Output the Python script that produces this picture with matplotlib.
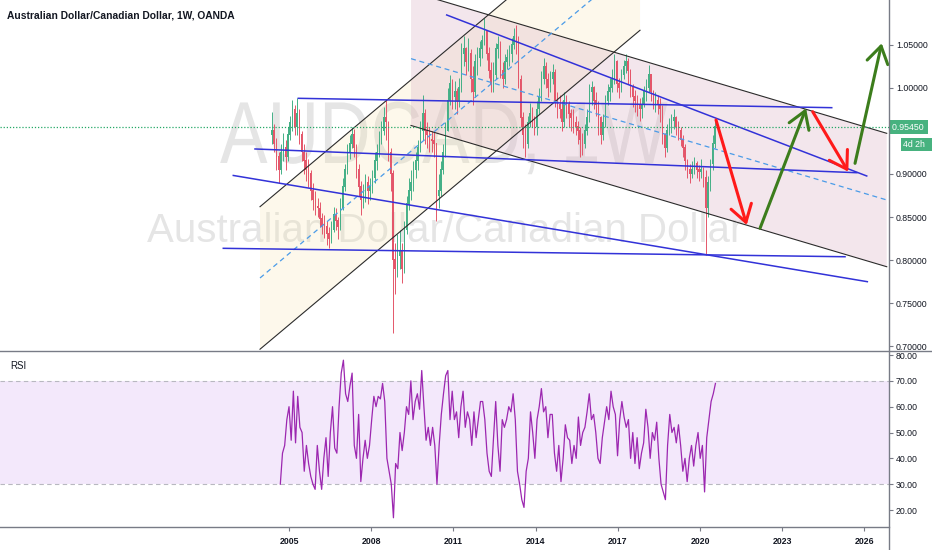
import numpy as np
import matplotlib
matplotlib.use('Agg')
import matplotlib.pyplot as plt
from matplotlib.lines import Line2D
from matplotlib import transforms
from matplotlib.textpath import TextPath
from matplotlib.patches import PathPatch
from matplotlib.font_manager import FontProperties

plt.rcParams['font.family'] = ['Liberation Sans', 'DejaVu Sans']

# monthly candles, May 2004 .. Jul 2020
first_open = 0.945
closes = [
    0.950, 0.935, 0.920, 0.905, 0.925, 0.930, 0.920, 0.945,                      # 2004
    0.960, 0.975, 0.955, 0.970, 0.945, 0.925, 0.915, 0.905, 0.900, 0.880, 0.870, 0.862,  # 2005
    0.860, 0.848, 0.840, 0.838, 0.830, 0.825, 0.835, 0.852, 0.845, 0.838, 0.860, 0.885,  # 2006
    0.905, 0.925, 0.935, 0.945, 0.930, 0.905, 0.885, 0.870, 0.875, 0.890, 0.880, 0.885,  # 2007
    0.895, 0.915, 0.925, 0.940, 0.950, 0.965, 0.960, 0.925, 0.900, 0.800, 0.790, 0.805,  # 2008
    0.810, 0.790, 0.835, 0.865, 0.880, 0.890, 0.905, 0.915, 0.930, 0.950, 0.970, 0.950,  # 2009
    0.945, 0.940, 0.938, 0.935, 0.875, 0.880, 0.905, 0.925, 0.950, 0.985, 1.005, 0.990,  # 2010
    0.995, 0.985, 1.000, 1.040, 1.045, 1.030, 1.040, 1.010, 0.995, 1.030, 1.035, 1.045,  # 2011
    1.055, 1.065, 1.040, 1.020, 1.005, 1.015, 1.045, 1.050, 1.020, 1.010, 1.030, 1.035,  # 2012
    1.040, 1.050, 1.060, 1.055, 1.010, 0.965, 0.945, 0.935, 0.960, 0.970, 0.965, 0.955,  # 2013
    0.975, 0.990, 1.010, 1.025, 1.010, 1.000, 1.010, 1.018, 0.985, 0.980, 0.975, 0.960,  # 2014
    0.985, 0.980, 0.970, 0.965, 0.960, 0.955, 0.950, 0.940, 0.935, 0.950, 0.965, 0.995,  # 2015
    1.000, 0.985, 0.980, 0.965, 0.945, 0.960, 0.985, 0.995, 1.000, 1.010, 1.030, 1.005,  # 2016
    1.000, 1.015, 1.025, 1.030, 1.020, 1.000, 0.990, 0.985, 0.980, 0.975, 0.980, 0.995,  # 2017
    1.000, 1.015, 0.995, 0.985, 0.985, 0.980, 0.975, 0.945, 0.930, 0.950, 0.958, 0.962,  # 2018
    0.965, 0.955, 0.950, 0.940, 0.930, 0.915, 0.905, 0.900, 0.905, 0.912, 0.905, 0.902,  # 2019
    0.905, 0.895, 0.860, 0.890, 0.912, 0.935, 0.9545,                                  # 2020
]
highs = [
    0.972, 0.958, 0.942, 0.925, 0.935, 0.948, 0.940, 0.955,
    0.968, 0.986, 0.980, 0.988, 0.975, 0.950, 0.935, 0.925, 0.918, 0.905, 0.890, 0.880,
    0.872, 0.868, 0.855, 0.852, 0.845, 0.838, 0.845, 0.862, 0.860, 0.850, 0.872, 0.895,
    0.912, 0.935, 0.945, 0.955, 0.952, 0.935, 0.912, 0.892, 0.888, 0.900, 0.898, 0.895,
    0.905, 0.925, 0.935, 0.950, 0.962, 0.978, 0.986, 0.962, 0.930, 0.905, 0.820, 0.830,
    0.835, 0.820, 0.845, 0.875, 0.895, 0.905, 0.915, 0.925, 0.940, 0.962, 0.992, 0.975,
    0.960, 0.955, 0.950, 0.950, 0.935, 0.900, 0.915, 0.935, 0.960, 1.000, 1.015, 1.010,
    1.008, 1.000, 1.012, 1.052, 1.060, 1.048, 1.058, 1.045, 1.025, 1.040, 1.048, 1.055,
    1.062, 1.081, 1.068, 1.048, 1.030, 1.030, 1.052, 1.060, 1.055, 1.030, 1.040, 1.045,
    1.050, 1.058, 1.070, 1.073, 1.060, 1.015, 0.972, 0.958, 0.968, 0.982, 0.978, 0.968,
    0.985, 1.000, 1.020, 1.035, 1.030, 1.018, 1.020, 1.028, 1.022, 0.995, 0.992, 0.985,
    0.995, 0.992, 0.985, 0.975, 0.975, 0.968, 0.962, 0.955, 0.948, 0.958, 0.975, 1.005,
    1.008, 1.002, 0.995, 0.985, 0.968, 0.970, 0.992, 1.005, 1.012, 1.022, 1.040, 1.032,
    1.012, 1.022, 1.032, 1.040, 1.035, 1.022, 1.005, 0.998, 0.992, 0.988, 0.990, 1.002,
    1.010, 1.027, 1.015, 0.998, 0.995, 0.992, 0.988, 0.980, 0.948, 0.958, 0.965, 0.970,
    0.975, 0.968, 0.962, 0.955, 0.945, 0.935, 0.918, 0.912, 0.915, 0.920, 0.915, 0.910,
    0.918, 0.908, 0.905, 0.898, 0.918, 0.945, 0.962,
]
lows = [
    0.935, 0.925, 0.905, 0.890, 0.900, 0.915, 0.905, 0.915,
    0.940, 0.950, 0.945, 0.945, 0.935, 0.915, 0.900, 0.892, 0.885, 0.870, 0.858, 0.852,
    0.850, 0.838, 0.830, 0.826, 0.818, 0.814, 0.820, 0.832, 0.835, 0.825, 0.835, 0.858,
    0.880, 0.900, 0.918, 0.930, 0.920, 0.895, 0.875, 0.852, 0.860, 0.868, 0.865, 0.870,
    0.878, 0.890, 0.905, 0.920, 0.935, 0.945, 0.940, 0.915, 0.880, 0.715, 0.760, 0.780,
    0.790, 0.773, 0.785, 0.830, 0.858, 0.870, 0.880, 0.895, 0.905, 0.925, 0.940, 0.935,
    0.930, 0.925, 0.925, 0.920, 0.845, 0.860, 0.875, 0.900, 0.920, 0.950, 0.980, 0.975,
    0.975, 0.970, 0.978, 0.995, 1.025, 1.015, 1.020, 0.995, 0.980, 0.990, 1.015, 1.025,
    1.035, 1.050, 1.032, 1.012, 0.995, 0.995, 1.010, 1.035, 1.012, 1.000, 1.005, 1.022,
    1.025, 1.030, 1.045, 1.040, 1.000, 0.955, 0.930, 0.920, 0.930, 0.955, 0.955, 0.945,
    0.945, 0.970, 0.985, 1.005, 1.000, 0.990, 0.995, 1.005, 0.978, 0.965, 0.965, 0.950,
    0.955, 0.965, 0.955, 0.950, 0.948, 0.945, 0.935, 0.920, 0.922, 0.930, 0.945, 0.960,
    0.980, 0.975, 0.968, 0.945, 0.935, 0.940, 0.955, 0.980, 0.985, 0.995, 1.005, 0.995,
    0.988, 0.995, 1.010, 1.018, 1.005, 0.990, 0.978, 0.972, 0.968, 0.962, 0.965, 0.978,
    0.985, 0.995, 0.985, 0.975, 0.972, 0.970, 0.960, 0.935, 0.920, 0.925, 0.945, 0.948,
    0.952, 0.945, 0.940, 0.932, 0.920, 0.905, 0.895, 0.890, 0.895, 0.900, 0.895, 0.892,
    0.895, 0.885, 0.806, 0.850, 0.880, 0.905, 0.930,
]
last_price = 0.9545

# RSI(14), sampled about every 4 weeks from Sep 2004
rsi_start = 2004.683
rsi_step = 0.0794
rsi = [30, 42, 45, 55, 60, 47, 66, 46, 64, 52, 50, 35, 45, 38, 33, 30, 28, 45, 35, 28,
       40, 48, 33, 50, 60, 44, 42, 60, 73, 78, 65, 62, 68, 73, 45, 40, 57, 31, 40, 47,
       40, 45, 55, 64, 60, 64, 63, 69, 62, 40, 35, 30, 17, 38, 36, 50, 43, 50, 60, 57,
       70, 55, 62, 65, 59, 74, 60, 47, 52, 45, 52, 45, 30, 45, 57, 65, 72, 74, 55, 66,
       55, 58, 48, 60, 66, 52, 58, 55, 45, 58, 48, 55, 62, 62, 55, 42, 35, 33, 48, 62,
       45, 35, 55, 52, 55, 60, 58, 65, 55, 35, 30, 24, 21, 35, 40, 58, 50, 40, 55, 60,
       67, 58, 60, 48, 57, 57, 42, 35, 45, 31, 40, 53, 48, 47, 38, 45, 40, 56, 45, 50,
       52, 58, 65, 55, 57, 50, 40, 38, 48, 54, 60, 55, 66, 60, 57, 41, 55, 62, 56, 52,
       55, 40, 50, 38, 48, 36, 42, 46, 59, 52, 40, 50, 47, 54, 40, 30, 27, 24, 45, 57,
       50, 52, 46, 53, 45, 35, 40, 31, 40, 45, 37, 45, 50, 40, 45, 27, 48, 55, 62, 65, 69]

# drawings (year, price)
rise_upper = [(2003.942, 0.8620), (2017.810, 1.2331)]
rise_lower = [(2003.942, 0.6963), (2017.810, 1.0671)]
rise_mid = [(2003.942, 0.7791), (2017.810, 1.1501)]
fall_upper = [(2009.453, 1.1119), (2026.814, 0.9473)]
fall_lower = [(2009.453, 0.9564), (2026.814, 0.7922)]
fall_mid = [(2009.453, 1.0341), (2026.814, 0.8698)]

blue_top = [(2005.339, 0.9880), (2024.807, 0.9771)]
blue_fall = [(2010.755, 1.0849), (2026.084, 0.8977)]
blue_mid = [(2003.759, 0.9291), (2025.719, 0.9015)]
blue_low = [(2002.967, 0.8983), (2026.106, 0.7748)]
blue_bottom = [(2002.602, 0.8136), (2025.292, 0.8038)]

red_arrows = [[(2020.584, 0.9628), (2021.704, 0.8407)],
              [(2024.113, 0.9724), (2025.412, 0.9027)]]
green_arrows = [[(2022.190, 0.8369), (2023.869, 0.9764)],
                [(2025.657, 0.9124), (2026.631, 1.0520)]]

year_ticks = [2005, 2008, 2011, 2014, 2017, 2020, 2023, 2026]
price_ticks = [0.70, 0.75, 0.80, 0.85, 0.90, 0.95, 1.00, 1.05]
rsi_ticks = [20, 30, 40, 50, 60, 70, 80]

UP = '#45b087'
DOWN = '#e4566a'
TXT = '#131722'
AXC = '#787b86'

fig = plt.figure(figsize=(9.32, 5.5), dpi=100)
ax = fig.add_axes([0, 0.3618, 0.9539, 0.6382])
ax2 = fig.add_axes([0, 0.0418, 0.9539, 0.32], sharex=ax)

xmin, xmax = 1994.453, 2026.898
ax.set_xlim(xmin, xmax)
ax.set_ylim(0.6942, 1.1023)
ax2.set_ylim(13.42, 81.55)

# channel fills
ax.fill([rise_upper[0][0], rise_upper[1][0], rise_lower[1][0], rise_lower[0][0]],
        [rise_upper[0][1], rise_upper[1][1], rise_lower[1][1], rise_lower[0][1]],
        color='#f7e3a8', alpha=0.22, lw=0, zorder=1)
ax.fill([fall_upper[0][0], fall_upper[1][0], fall_lower[1][0], fall_lower[0][0]],
        [fall_upper[0][1], fall_upper[1][1], fall_lower[1][1], fall_lower[0][1]],
        color='#dcb4c6', alpha=0.32, lw=0, zorder=1)

# watermark: symbol line in a narrowed face
wm = TextPath((0, 0), 'AUDCAD, 1W', size=63.4, prop=FontProperties(family='Liberation Sans'))
wm_tr = transforms.Affine2D().scale(0.81 / 72, 1 / 72).translate(2.20, 3.87) + fig.dpi_scale_trans
ax.add_patch(PathPatch(wm, transform=wm_tr, fc='#000000', ec='none', alpha=0.1, zorder=0))
ax.text(0.1654, 0.3105, 'Australian Dollar/Canadian Dollar', transform=ax.transAxes,
        fontsize=29, color='#000000', alpha=0.1, ha='left', va='baseline', zorder=0)

# candles
n = len(closes)
t = 2004 + (4 + np.arange(n) + 0.5) / 12
c = np.array(closes)
o = np.concatenate([[first_open], c[:-1]])
h = np.array(highs)
l = np.array(lows)
cols = np.where(c >= o, UP, DOWN)
ax.vlines(t, l, h, colors=cols, lw=0.7, zorder=3)
ax.bar(t, np.abs(c - o) + 0.001, bottom=np.minimum(o, c), width=0.6 / 12,
       color=cols, lw=0, zorder=3)

# channels
for seg in [rise_upper, rise_lower, fall_upper, fall_lower]:
    ax.plot([p[0] for p in seg], [p[1] for p in seg], color='#2b2b2b', lw=0.8, zorder=4)
for seg in [rise_mid, fall_mid]:
    ax.plot([p[0] for p in seg], [p[1] for p in seg], color='#4a9be8', lw=0.9,
            dashes=(4, 3), zorder=4)
for seg in [blue_top, blue_fall, blue_mid, blue_low, blue_bottom]:
    ax.plot([p[0] for p in seg], [p[1] for p in seg], color='#3232d8', lw=1.1, zorder=4)

ax.axhline(last_price, color='#24a866', lw=0.9, ls=(0, (1, 1.5)), zorder=4)

for seg, col in [(s, '#ff1a1a') for s in red_arrows] + [(s, '#3c7d1c') for s in green_arrows]:
    ax.annotate('', xy=seg[1], xytext=seg[0], zorder=5,
                arrowprops=dict(arrowstyle='->,head_length=0.6,head_width=0.38',
                                color=col, lw=2.2, mutation_scale=20,
                                shrinkA=0, shrinkB=0))

# price axis
ax.yaxis.tick_right()
ax.set_yticks(price_ticks)
ax.set_yticklabels(['' if v == 0.95 else '%.5f' % v for v in price_ticks])
ax.tick_params(axis='y', length=3, width=0.8, color=AXC, labelsize=6.3, labelcolor=TXT, pad=2)
ax.tick_params(axis='x', length=0, labelbottom=False)
for s in ['top', 'left', 'bottom', 'right']:
    ax.spines[s].set_visible(False)

trans = transforms.blended_transform_factory(ax.transAxes, ax.transData)
ax.text(1.003, last_price, '0.95450 ', transform=trans, fontsize=6.3, color='white',
        ha='left', va='center', zorder=6,
        bbox=dict(boxstyle='square,pad=0.3', fc='#47b27f', ec='none'))
ax.text(1.016, 0.9345, '4d 2h  ', transform=trans, fontsize=6.3, color='white',
        ha='left', va='center', zorder=6,
        bbox=dict(boxstyle='square,pad=0.25', fc='#47b27f', ec='none'))

# RSI panel
rsi_t = rsi_start + rsi_step * np.arange(len(rsi))
ax2.axhspan(30, 70, color='#8e24e0', alpha=0.1, lw=0)
ax2.axhline(70, color='#b8b8c0', lw=0.8, dashes=(4, 3))
ax2.axhline(30, color='#b8b8c0', lw=0.8, dashes=(4, 3))
ax2.plot(rsi_t, rsi, color='#9c27b0', lw=0.9)
ax2.yaxis.tick_right()
ax2.set_yticks(rsi_ticks)
ax2.set_yticklabels(['%.2f' % v for v in rsi_ticks])
ax2.tick_params(axis='y', length=3, width=0.8, color=AXC, labelsize=6.3, labelcolor=TXT, pad=2)
ax2.set_xticks(year_ticks)
ax2.set_xticklabels([str(y) for y in year_ticks], fontweight='bold')
ax2.tick_params(axis='x', length=3, width=0.8, color=AXC, labelsize=6.3, labelcolor=TXT, pad=4)
for s in ['top', 'left', 'right']:
    ax2.spines[s].set_visible(False)
ax2.spines['bottom'].set_color(AXC)
ax2.spines['bottom'].set_linewidth(1.0)
ax2.text(0.011, 0.915, 'RSI', transform=ax2.transAxes, fontsize=7, color=TXT,
         ha='left', va='center')

# frame lines
fig.add_artist(Line2D([0.9539, 0.9539], [0, 1], transform=fig.transFigure, color=AXC, lw=1.0))
fig.add_artist(Line2D([0, 1], [0.3618, 0.3618], transform=fig.transFigure, color=AXC, lw=1.0))

fig.text(7 / 932, 1 - 15 / 550, 'Australian Dollar/Canadian Dollar, 1W, OANDA',
         fontsize=7.4, fontweight='bold', color=TXT, ha='left', va='center')

fig.savefig('out.png', dpi=100)
